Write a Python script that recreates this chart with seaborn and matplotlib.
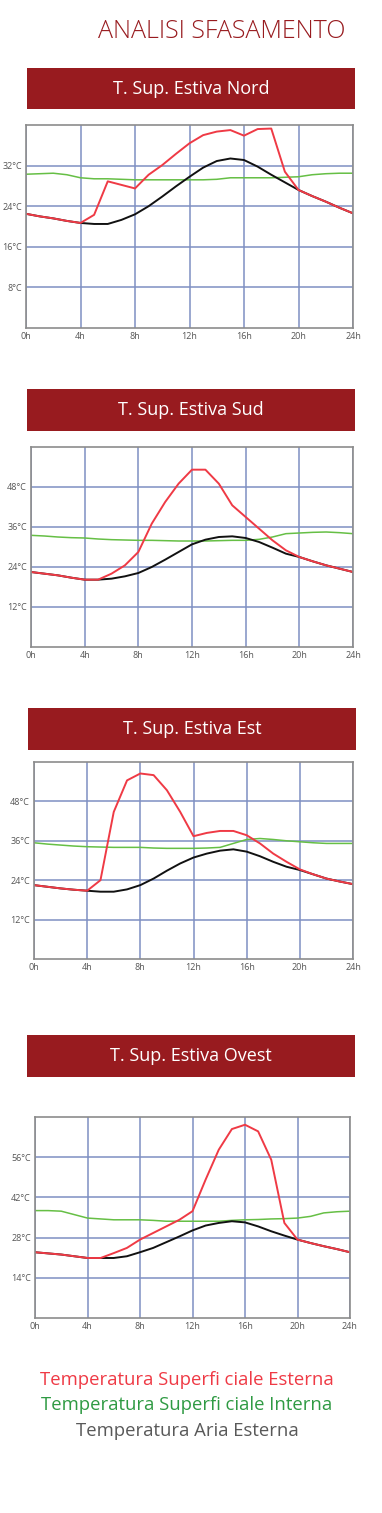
import matplotlib
matplotlib.use("Agg")
import matplotlib.pyplot as plt
from matplotlib.patches import Rectangle
import seaborn as sns

# ---- data ----
hours = list(range(0, 25))

nord_ext_surf = [22.5, 22.0, 21.6, 21.1, 20.7, 22.3, 28.9, 28.2, 27.5, 30.2, 32.1, 34.3, 36.4,
                 38.0, 38.7, 39.0, 37.9, 39.2, 39.3, 30.8, 27.2, 26.0, 24.9, 23.7, 22.6]
nord_air = [22.5, 22.0, 21.6, 21.1, 20.7, 20.5, 20.5, 21.3, 22.4, 24.0, 25.9, 27.9, 29.8,
            31.6, 32.9, 33.4, 33.1, 31.8, 30.2, 28.7, 27.2, 26.0, 24.9, 23.7, 22.6]
nord_int_surf = [30.3, 30.4, 30.5, 30.2, 29.6, 29.4, 29.4, 29.3, 29.2, 29.2, 29.2, 29.2, 29.2,
                 29.2, 29.3, 29.6, 29.6, 29.6, 29.6, 29.7, 29.8, 30.2, 30.4, 30.5, 30.5]

sud_ext_surf = [22.5, 22.0, 21.5, 20.8, 20.2, 20.2, 22.0, 24.5, 28.5, 37.0, 43.5, 49.0, 53.2,
                53.2, 49.0, 42.5, 39.0, 35.5, 32.0, 29.0, 27.0, 25.7, 24.5, 23.5, 22.5]
sud_air = [22.5, 22.0, 21.5, 20.8, 20.2, 20.2, 20.5, 21.2, 22.2, 24.0, 26.2, 28.5, 30.8,
           32.2, 33.0, 33.2, 32.7, 31.5, 29.8, 28.0, 27.0, 25.7, 24.5, 23.5, 22.5]
sud_int_surf = [33.5, 33.3, 33.0, 32.8, 32.7, 32.4, 32.2, 32.1, 32.0, 32.0, 31.9, 31.8, 31.8,
                31.8, 31.9, 32.0, 32.0, 32.3, 33.0, 34.0, 34.2, 34.4, 34.5, 34.3, 34.0]

est_ext_surf = [22.5, 22.0, 21.5, 21.1, 20.8, 24.0, 44.8, 54.4, 56.5, 56.0, 51.4, 44.8, 37.4,
                38.4, 39.0, 39.0, 37.7, 35.2, 32.1, 29.6, 27.3, 25.8, 24.5, 23.6, 22.8]
est_air = [22.5, 22.0, 21.5, 21.1, 20.8, 20.5, 20.5, 21.2, 22.5, 24.5, 26.9, 29.1, 30.9,
           32.1, 33.0, 33.4, 32.7, 31.3, 29.6, 28.1, 27.1, 25.8, 24.5, 23.6, 22.8]
est_int_surf = [35.4, 35.0, 34.7, 34.4, 34.2, 34.1, 34.0, 34.0, 34.0, 33.8, 33.7, 33.7, 33.7,
                33.8, 34.0, 35.2, 36.4, 36.7, 36.4, 36.0, 35.7, 35.4, 35.2, 35.2, 35.2]

ovest_ext_surf = [22.9, 22.5, 22.1, 21.5, 20.9, 20.9, 22.6, 24.4, 27.3, 29.6, 31.9, 34.2, 37.2,
                  48.2, 58.6, 65.8, 67.3, 65.0, 55.1, 33.1, 27.3, 26.1, 25.0, 24.0, 22.9]
ovest_air = [22.9, 22.5, 22.1, 21.5, 20.9, 20.9, 20.9, 21.5, 22.9, 24.4, 26.4, 28.4, 30.5,
             32.2, 33.1, 33.7, 33.3, 31.9, 30.2, 28.7, 27.3, 26.1, 25.0, 24.0, 22.9]
ovest_int_surf = [37.4, 37.4, 37.2, 36.0, 34.8, 34.5, 34.2, 34.2, 34.2, 34.0, 33.7, 33.7, 33.7,
                  33.7, 33.7, 34.0, 34.2, 34.3, 34.5, 34.6, 34.8, 35.4, 36.6, 37.0, 37.2]

panel_titles = ["T. Sup. Estiva Nord", "T. Sup. Estiva Sud", "T. Sup. Estiva Est", "T. Sup. Estiva Ovest"]
y_ticks = [[8, 16, 24, 32], [12, 24, 36, 48], [12, 24, 36, 48], [14, 28, 42, 56]]
y_max = [40, 60, 60, 70]
x_ticks = [0, 4, 8, 12, 16, 20, 24]
legend_labels = ["Temperatura Superfi ciale Esterna", "Temperatura Superfi ciale Interna",
                 "Temperatura Aria Esterna"]

# ---- style ----
W, H = 382, 1513
sns.set_style("white")
plt.rcParams['font.family'] = ['Open Sans', 'DejaVu Sans']

RED = "#ef3a45"
GREEN = "#66bf45"
BLACK = "#111111"
DARKRED = "#981b1f"
GRID = "#7e90c2"

fig = plt.figure(figsize=(W / 100, H / 100), dpi=100)
fig.patch.set_facecolor("white")


def px_axes(left, top, right, bottom):
    return fig.add_axes([left / W, 1 - bottom / H, (right - left) / W, (bottom - top) / H])


def banner(left, top, right, bottom, text):
    fig.add_artist(Rectangle((left / W, 1 - bottom / H), (right - left) / W, (bottom - top) / H,
                             transform=fig.transFigure, facecolor=DARKRED, edgecolor="none"))
    fig.text((left + right) / 2 / W, 1 - (top + bottom) / 2 / H, text, color="white",
             fontsize=13, ha="center", va="center")


fig.text(345 / W, 1 - 32 / H, "ANALISI SFASAMENTO", color=DARKRED, fontsize=18,
         fontweight="light", ha="right", va="center")

banners = [(27, 68, 355, 109), (27, 389, 355, 431), (28, 708, 356, 750), (27, 1035, 355, 1077)]
boxes = [(26, 125, 353, 328), (31, 447, 353, 647), (34, 762, 353, 959), (35, 1117, 350, 1318)]
series = [(nord_ext_surf, nord_int_surf, nord_air),
          (sud_ext_surf, sud_int_surf, sud_air),
          (est_ext_surf, est_int_surf, est_air),
          (ovest_ext_surf, ovest_int_surf, ovest_air)]

for i in range(4):
    banner(*banners[i], panel_titles[i])
    ax = px_axes(*boxes[i])
    ext, intern, air = series[i]
    sns.lineplot(x=hours, y=intern, ax=ax, color=GREEN, linewidth=1.1, legend=False)
    sns.lineplot(x=hours, y=air, ax=ax, color=BLACK, linewidth=1.4, legend=False)
    sns.lineplot(x=hours, y=ext, ax=ax, color=RED, linewidth=1.4, legend=False)
    ax.set_xlim(0, 24)
    ax.set_ylim(0, y_max[i])
    ax.set_xticks(x_ticks)
    ax.set_xticklabels([f"{h}h" for h in x_ticks])
    ax.set_yticks(y_ticks[i])
    ax.set_yticklabels([f"{v}°C" for v in y_ticks[i]])
    ax.grid(True, color=GRID, linewidth=1.1)
    ax.set_axisbelow(True)
    ax.tick_params(length=0, pad=3, labelsize=6.5, labelcolor="#555555")
    ax.set_xlabel("")
    ax.set_ylabel("")
    for s in ax.spines.values():
        s.set_color("#8c8c8c")
        s.set_linewidth(1.2)

legend_colors = [RED, "#2f9a43", "#595959"]
legend_y = [1380, 1405, 1431]
for lab, col, y in zip(legend_labels, legend_colors, legend_y):
    fig.text(187 / W, 1 - y / H, lab, color=col, fontsize=13.3, ha="center", va="center")

fig.savefig("out.png", dpi=100, facecolor="white")
